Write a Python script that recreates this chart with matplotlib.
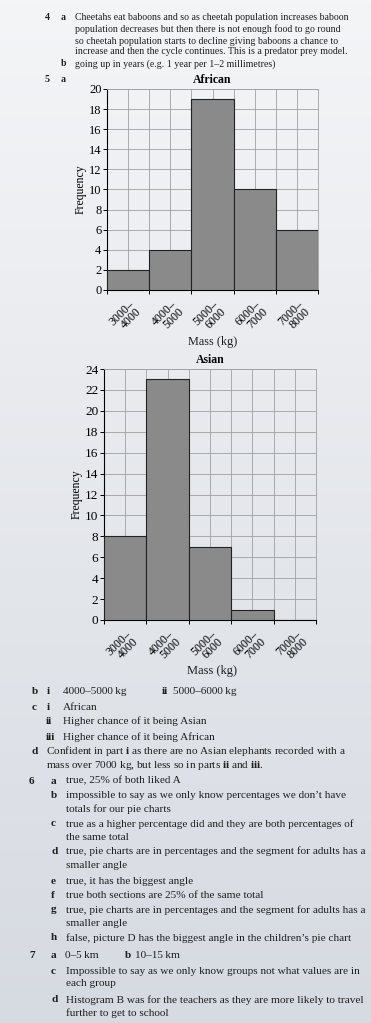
import numpy as np
import matplotlib
matplotlib.use("Agg")
import matplotlib.pyplot as plt

plt.rcParams['font.family'] = ['Liberation Serif', 'DejaVu Serif']
plt.rcParams['mathtext.fontset'] = 'custom'
plt.rcParams['mathtext.bf'] = 'Liberation Serif:bold'
plt.rcParams['mathtext.rm'] = 'Liberation Serif'

# data
bin_left = [3000, 4000, 5000, 6000, 7000]
bin_width = 1000
bin_labels = ["3000–\n4000", "4000–\n5000", "5000–\n6000", "6000–\n7000", "7000–\n8000"]
african_freq = [2, 4, 19, 10, 6]
asian_freq = [8, 23, 7, 1, 0]

W, H = 371, 1023
fig = plt.figure(figsize=(W / 100, H / 100), dpi=100)

# paper background (photo is lighter at top, greyer at bottom)
bg = fig.add_axes([0, 0, 1, 1], zorder=-10)
grad = np.linspace(0, 1, 256).reshape(-1, 1)
top_c = np.array([244, 245, 247]) / 255
bot_c = np.array([214, 218, 225]) / 255
img = top_c[None, None, :] * (1 - grad[..., None]) + bot_c[None, None, :] * grad[..., None]
bg.imshow(img, aspect='auto', extent=[0, 1, 0, 1])
bg.axis('off')

TXT = '#1e1e1e'
TS = '\u2009'  # thin space before units


def px(x, y):
    return x / W, 1 - y / H


def put(x, y, s, bold=False, size=8.1, **kw):
    fig.text(*px(x, y), s, fontsize=size, color=TXT, va='center',
             fontweight='bold' if bold else 'normal', **kw)


def hist(rect, freq, ymax, title, ysize):
    ax = fig.add_axes(rect)
    ax.set_facecolor('none')
    ax.bar(bin_left, freq, width=bin_width, align='edge', color='#8a8a8a',
           edgecolor='#222222', linewidth=0.8, zorder=3)
    ax.set_xlim(3000, 8000)
    ax.set_ylim(0, ymax)
    ax.set_yticks(range(0, ymax + 1, 2))
    ax.set_xticks(range(3000, 8001, 1000))
    ax.set_xticklabels([])
    centers = [b + bin_width / 2 for b in bin_left]
    ax.set_xticks(centers, minor=True)
    ax.set_xticklabels(bin_labels, minor=True, rotation=45, ha='right',
                       rotation_mode='anchor', fontsize=8.6, linespacing=0.8)
    ax.tick_params(axis='x', which='minor', length=0, pad=6)
    ax.tick_params(axis='x', which='major', length=3, width=0.7)
    ax.tick_params(axis='y', length=3, width=0.7, labelsize=ysize, pad=1)
    ax.grid(True, which='both', axis='x', color='#a0a0a0', linewidth=0.6)
    ax.grid(True, which='major', axis='y', color='#a0a0a0', linewidth=0.6)
    for s in ['top', 'right']:
        ax.spines[s].set_color('#a0a0a0')
        ax.spines[s].set_linewidth(0.6)
    for s in ['left', 'bottom']:
        ax.spines[s].set_linewidth(0.8)
    ax.set_title(title, fontsize=8.5, fontweight='bold', pad=4)
    ax.set_ylabel('Frequency', fontsize=8.5, labelpad=2)
    return ax


hist([107 / W, 1 - 290 / H, 211 / W, 201 / H], african_freq, 20, 'African', 9)
fig.text(*px(213, 342), 'Mass (kg)', fontsize=8.8, ha='center', va='center', color=TXT)

hist([104 / W, 1 - 620 / H, 212 / W, 251 / H], asian_freq, 24, 'Asian', 9.5)
fig.text(*px(212, 671), 'Mass (kg)', fontsize=9, ha='center', va='center', color=TXT)

# question 4
TOP = 7.1
put(45, 18, '4', bold=True, size=TOP)
put(61, 18, 'a', bold=True, size=TOP)
put(75, 18, 'Cheetahs eat baboons and so as cheetah population increases baboon', size=TOP)
put(75, 29, 'population decreases but then there is not enough food to go round', size=TOP)
put(75, 41, 'so cheetah population starts to decline giving baboons a chance to', size=TOP)
put(75, 52, 'increase and then the cycle continues. This is a predator prey model.', size=TOP)
put(61, 64, 'b', bold=True, size=TOP)
put(75, 64, 'going up in years (e.g. 1 year per 1–2 millimetres)', size=TOP)
put(45, 80, '5', bold=True, size=TOP)
put(61, 80, 'a', bold=True, size=TOP)

# question 5 answers
put(32, 692, 'b', bold=True)
put(47, 692, 'i', bold=True)
put(63, 692, '4000–5000' + TS + 'kg')
put(162, 692, 'ii', bold=True)
put(173, 692, '5000–6000' + TS + 'kg')
put(32, 707, 'c', bold=True)
put(47, 707, 'i', bold=True)
put(63, 707, 'African')
put(46, 721, 'ii', bold=True)
put(63, 721, 'Higher chance of it being Asian')
put(46, 737, 'iii', bold=True)
put(63, 737, 'Higher chance of it being African')
put(31, 751, 'd', bold=True)
put(46, 751, r'Confident in part $\mathbf{i}$ as there are no Asian elephants recorded with a')
put(46, 765, r'mass over 7000 kg, but less so in parts $\mathbf{ii}$ and $\mathbf{iii}$.')

# question 6
put(29, 781, '6', bold=True)
put(51, 781, 'a', bold=True)
put(66, 781, 'true, 25% of both liked A')
put(51, 796, 'b', bold=True)
put(66, 796, 'impossible to say as we only know percentages we don’t have')
put(66, 809, 'totals for our pie charts')
put(51, 824, 'c', bold=True)
put(66, 824, 'true as a higher percentage did and they are both percentages of')
put(66, 837, 'the same total')
put(51, 851, 'd', bold=True)
put(66, 851, 'true, pie charts are in percentages and the segment for adults has a')
put(66, 865, 'smaller angle')
put(51, 882, 'e', bold=True)
put(66, 882, 'true, it has the biggest angle')
put(51, 896, 'f', bold=True)
put(66, 896, 'true both sections are 25% of the same total')
put(51, 910, 'g', bold=True)
put(66, 910, 'true, pie charts are in percentages and the segment for adults has a')
put(66, 924, 'smaller angle')
put(51, 938, 'h', bold=True)
put(66, 938, 'false, picture D has the biggest angle in the children’s pie chart')

# question 7
put(29, 956, '7', bold=True)
put(51, 956, 'a', bold=True)
put(65, 956, '0–5' + TS + 'km')
put(125, 956, 'b', bold=True)
put(135, 956, '10–15' + TS + 'km')
put(51, 971, 'c', bold=True)
put(66, 971, 'Impossible to say as we only know groups not what values are in')
put(66, 984, 'each group')
put(51, 1000, 'd', bold=True)
put(66, 1000, 'Histogram B was for the teachers as they are more likely to travel')
put(66, 1013, 'further to get to school')

fig.savefig('out.png', dpi=100)
